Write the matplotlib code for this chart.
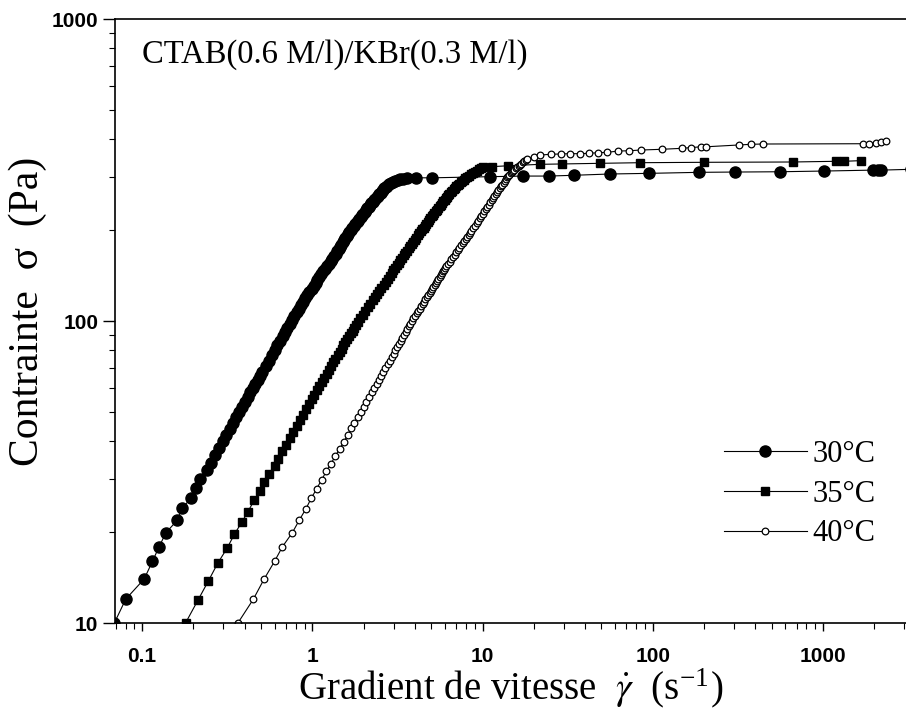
import numpy as np
import matplotlib
matplotlib.use('Agg')
import matplotlib.pyplot as plt
from matplotlib.ticker import LogLocator, NullFormatter

plt.rcParams['font.family'] = ['Liberation Serif', 'DejaVu Serif']
plt.rcParams['mathtext.fontset'] = 'stix'

# shear rate (1/s) and stress (Pa)
rate_30 = [0.0687, 0.0802, 0.103, 0.115, 0.126, 0.138, 0.161, 0.172, 0.195, 0.208,
           0.219, 0.241, 0.254, 0.269, 0.284, 0.299, 0.313, 0.328, 0.343, 0.358,
           0.373, 0.388, 0.403, 0.418, 0.433, 0.448, 0.463, 0.478, 0.493, 0.507,
           0.534, 0.556, 0.579, 0.602, 0.624, 0.647, 0.669, 0.692, 0.714, 0.737,
           0.762, 0.785, 0.808, 0.833, 0.856, 0.882, 0.908, 0.935, 0.962, 0.992,
           1.02, 1.05, 1.07, 1.10, 1.13, 1.16, 1.19, 1.22, 1.25, 1.28,
           1.31, 1.34, 1.37, 1.40, 1.43, 1.46, 1.48, 1.51, 1.53, 1.56,
           1.59, 1.62, 1.65, 1.69, 1.72, 1.75, 1.79, 1.82, 1.85, 1.89,
           1.92, 1.96, 1.99, 2.03, 2.06, 2.10, 2.14, 2.18, 2.22, 2.26,
           2.31, 2.35, 2.40, 2.44, 2.48, 2.52, 2.56, 2.60, 2.65, 2.70,
           2.76, 2.83, 2.91, 2.99, 3.08, 3.18, 3.29, 3.42, 3.6, 4.07,
           5.06, 11.1, 17.3, 24.5, 34.4, 56.1, 95.1, 186, 304, 558,
           1018, 1960, 2099, 2194, 3300]
stress_30 = [10, 12, 14, 16, 17.9, 19.9, 21.9, 24, 26, 28,
             30, 32, 34, 36, 38, 40, 42, 44, 46, 48,
             50, 52, 54, 56, 58, 60, 62, 64, 66, 68,
             71, 74, 77, 80, 83, 86, 89, 92, 95, 98,
             101, 104, 107, 110, 113, 116, 119, 122, 125, 128,
             131, 134, 137, 140, 143, 146, 149, 152, 155, 158,
             161, 164, 167, 170, 173, 176, 179, 182, 185, 188,
             191, 194, 197, 200, 203, 206, 209, 212, 215, 218,
             221, 224, 227, 230, 233, 236, 239, 242, 245, 248,
             251, 254, 257, 260, 263, 266, 269, 272, 275, 278,
             281, 284, 287, 289, 291, 293, 295, 296, 297, 298,
             298, 300.6, 302, 302, 303.8, 306.8, 308.3, 310.7, 311.4, 312.1,
             313.8, 316, 316, 316, 318]

rate_35 = [0.18, 0.213, 0.2455, 0.2786, 0.316, 0.349, 0.386, 0.419, 0.456, 0.492,
           0.522, 0.558, 0.6, 0.631, 0.667, 0.703, 0.739, 0.775, 0.811, 0.847,
           0.883, 0.919, 0.955, 0.991, 1.027, 1.063, 1.10, 1.136, 1.175, 1.213,
           1.252, 1.290, 1.329, 1.368, 1.407, 1.446, 1.485, 1.524, 1.564, 1.603,
           1.646, 1.684, 1.726, 1.765, 1.806, 1.847, 1.914, 1.981, 2.049, 2.118,
           2.188, 2.259, 2.330, 2.402, 2.475, 2.549, 2.624, 2.70, 2.777, 2.848,
           2.921, 2.994, 3.067, 3.142, 3.216, 3.292, 3.368, 3.445, 3.522, 3.600,
           3.679, 3.758, 3.838, 3.919, 4.0, 4.082, 4.165, 4.248, 4.333, 4.418,
           4.503, 4.590, 4.677, 4.765, 4.854, 4.944, 5.034, 5.125, 5.217, 5.310,
           5.404, 5.499, 5.594, 5.691, 5.788, 5.887, 5.986, 6.086, 6.187, 6.289,
           6.392, 6.512, 6.634, 6.757, 6.883, 7.010, 7.139, 7.289, 7.442, 7.598,
           7.757, 7.92, 8.108, 8.301, 8.524, 8.754, 8.991, 9.265, 9.55, 9.847,
           10.1, 11.4, 14.2, 21.9, 29.4, 48.8, 83.9, 200, 663, 1192,
           1330, 1674]
stress_35 = [10, 11.9, 13.8, 15.8, 17.7, 19.7, 21.6, 23.4, 25.5, 27.4,
             29.3, 31.2, 33.2, 35, 37, 39, 41, 43, 45, 47,
             49, 51, 53, 55, 57, 59, 61, 63, 65, 67,
             69, 71, 73, 75, 77, 79, 81, 83, 85, 87,
             89, 91, 93, 95, 97, 99, 102, 105, 108, 111,
             114, 117, 120, 123, 126, 129, 132, 135, 138, 141,
             144, 147, 150, 153, 156, 159, 162, 165, 168, 171,
             174, 177, 180, 183, 186, 189, 192, 195, 198, 201,
             204, 207, 210, 213, 216, 219, 222, 225, 228, 231,
             234, 237, 240, 243, 246, 249, 252, 255, 258, 261,
             264, 267, 270, 273, 276, 279, 282, 285, 288, 291,
             294, 297, 300, 303, 306, 309, 312, 315, 318, 321,
             323, 324.5, 326.7, 330.3, 331.3, 332.8, 334.4, 335.4, 336.2, 338,
             338, 339.7]

rate_40 = [0.3655, 0.45, 0.52, 0.6, 0.668, 0.763, 0.838, 0.918, 0.986, 1.06,
           1.134, 1.21, 1.288, 1.365, 1.446, 1.528, 1.613, 1.689, 1.769, 1.846,
           1.923, 2.0, 2.077, 2.154, 2.231, 2.308, 2.385, 2.462, 2.538, 2.615,
           2.692, 2.769, 2.846, 2.923, 3.0, 3.077, 3.154, 3.231, 3.308, 3.385,
           3.462, 3.538, 3.615, 3.692, 3.769, 3.846, 3.931, 4.015, 4.101, 4.186,
           4.272, 4.358, 4.444, 4.531, 4.618, 4.706, 4.794, 4.882, 4.970, 5.059,
           5.149, 5.238, 5.328, 5.418, 5.509, 5.60, 5.687, 5.774, 5.861, 5.949,
           6.036, 6.129, 6.26, 6.41, 6.56, 6.71, 6.86, 7.01, 7.17,
           7.32, 7.48, 7.64, 7.80, 7.96, 8.12, 8.28, 8.45, 8.61, 8.83,
           9.04, 9.25, 9.43, 9.65, 9.82, 10.04, 10.22, 10.44, 10.67, 10.85,
           11.08, 11.31, 11.49, 11.72, 11.95, 12.14, 12.37, 12.61, 12.80, 13.04,
           13.29, 13.47, 13.72, 13.91, 14.18, 14.39, 14.67, 14.88, 15.17, 15.39,
           15.69, 15.99, 16.30, 16.62, 16.94, 17.27, 17.60, 17.95, 18.2, 20.0,
           21.9, 25.1, 28.8, 32.5, 37.2, 42.2, 47.7, 54.1, 62.5, 72.6,
           85, 113, 149.5, 167.3, 191.6, 205, 322, 377, 442, 1713,
           1872, 2049, 2193, 2346]
stress_40 = [10, 11.98, 13.95, 16, 17.9, 19.9, 21.9, 23.9, 25.9, 27.8,
             29.8, 31.8, 33.7, 35.7, 37.7, 39.7, 41.9, 44.1, 46, 48,
             50, 52, 54, 56, 58, 60, 62, 64, 66, 68,
             70, 72, 74, 76, 78, 80, 82, 84, 86, 88,
             90, 92, 94, 96, 98, 100, 102, 104, 106, 108,
             110, 112, 114, 116, 118, 120, 122, 124, 126, 128,
             130, 132, 134, 136, 138, 140, 142, 144, 146, 148,
             150, 152, 154, 157, 160, 163, 166, 169, 172,
             175, 178, 181, 184, 187, 190, 193, 196, 199, 203,
             207, 211, 215, 219, 223, 227, 231, 235, 239, 243,
             247, 251, 255, 259, 263, 267, 271, 275, 279, 283,
             287, 291, 295, 299, 302, 305, 308, 311, 314, 317,
             320, 323, 326, 329, 332, 335, 338, 341, 344, 350,
             354.6, 356.5, 357.3, 358.2, 358.2, 359.2, 360.8, 361.9, 365.4, 366.3,
             368.3, 370.4, 373.2, 375, 377.5, 377.5, 382.7, 384.7, 385.6, 386.5,
             386.5, 388.6, 390.4, 395.5]

labels = ['30°C', '35°C', '40°C']
x_ticks = [0.1, 1, 10, 100, 1000]
x_ticklabels = ['0.1', '1', '10', '100', '1000']
y_ticks = [10, 100, 1000]
y_ticklabels = ['10', '100', '1000']

fig = plt.figure(figsize=(9.06, 7.10), dpi=100)
ax = fig.add_axes([0.1269, 0.1225, 0.8731, 0.8507])

ax.plot(rate_30, stress_30, '-', color='k', lw=0.8, marker='o', ms=8,
        mfc='k', mec='k', label=labels[0])
ax.plot(rate_35, stress_35, '-', color='k', lw=0.8, marker='s', ms=6,
        mfc='k', mec='k', label=labels[1])
ax.plot(rate_40, stress_40, '-', color='k', lw=0.8, marker='o', ms=4.8,
        mfc='white', mec='k', mew=0.9, label=labels[2])

ax.set_xscale('log')
ax.set_yscale('log')
ax.set_xlim(0.0693, 3076)
ax.set_ylim(10, 1000)

ax.spines['right'].set_visible(False)
for s in ['left', 'bottom', 'top']:
    ax.spines[s].set_linewidth(1.2)

ax.set_xticks(x_ticks)
ax.set_xticklabels(x_ticklabels, fontfamily='Liberation Sans', fontweight='bold', fontsize=15)
ax.set_yticks(y_ticks)
ax.set_yticklabels(y_ticklabels, fontfamily='Liberation Sans', fontweight='bold', fontsize=15)
ax.xaxis.set_minor_locator(LogLocator(base=10, subs=np.arange(2, 10)))
ax.yaxis.set_minor_locator(LogLocator(base=10, subs=np.arange(2, 10)))
ax.xaxis.set_minor_formatter(NullFormatter())
ax.yaxis.set_minor_formatter(NullFormatter())

ax.tick_params(axis='x', which='major', direction='out', length=6, width=1, pad=11)
ax.tick_params(axis='x', which='minor', direction='out', length=4, width=0.8)
ax.tick_params(axis='y', which='major', direction='out', length=9, width=1, pad=3)
ax.tick_params(axis='y', which='minor', direction='out', length=4.5, width=0.8)
ax.tick_params(top=False, right=False, which='both')

ax.set_xlabel('Gradient de vitesse  $\\dot{\\gamma}$  (s$^{\\mathregular{-1}}$)',
              fontsize=28, labelpad=0)
fig.text(0.031, 0.562, 'Contrainte  σ  (Pa)', rotation=90, va='center', ha='center',
         fontsize=30)

fig.text(142 / 906, (710 - 55) / 710, 'CTAB(0.6 M/l)/KBr(0.3 M/l)', fontsize=23.5,
         va='center', ha='left')

ax.legend(loc='center', bbox_to_anchor=(0.883, 0.304), bbox_transform=fig.transFigure,
          frameon=False, fontsize=22, numpoints=1, handlelength=2.7,
          handletextpad=0.2, labelspacing=0.35, borderpad=0)

fig.savefig('out.png', dpi=100, facecolor='white')
